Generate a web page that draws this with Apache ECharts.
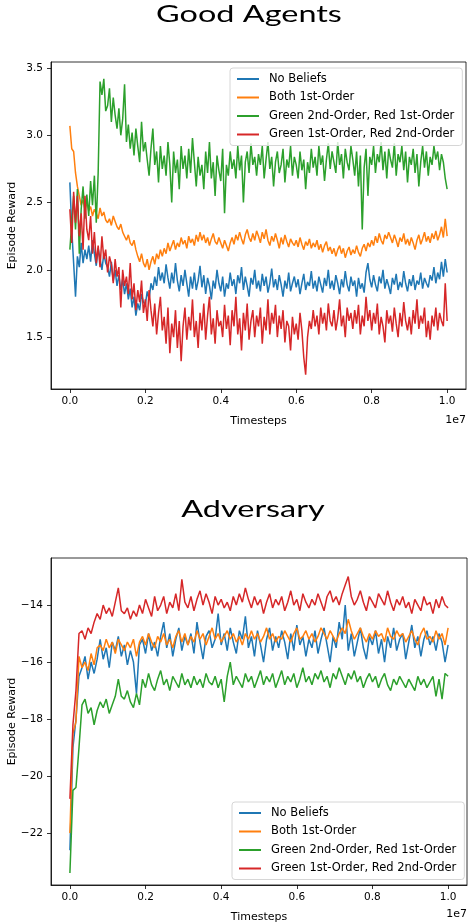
<!DOCTYPE html>
<html>
<head>
<meta charset="utf-8">
<script src="https://cdn.jsdelivr.net/npm/echarts@6/dist/echarts.min.js"></script>
<style>
html,body{margin:0;padding:0;background:#fff;}
#chart{width:470px;height:924px;}
</style>
</head>
<body>
<div id="chart"></div>
<script>
// ---------- data ----------
const seriesNames = ['No Beliefs', 'Both 1st-Order', 'Green 2nd-Order, Red 1st-Order', 'Green 1st-Order, Red 2nd-Order'];
const seriesColors = ['#1f77b4', '#ff7f0e', '#2ca02c', '#d62728'];
const xTicks = [0, 2000000, 4000000, 6000000, 8000000, 10000000];
const goodYTicks = [1.5, 2.0, 2.5, 3.0, 3.5];
const advYTicks = [-22, -20, -18, -16, -14];
const goodStep = 50000;   // timesteps between logged points (top panel)
const advStep = 80000;    // timesteps between logged points (bottom panel)

// Good Agents — episode reward
const goodNoBeliefs = [
2.65,2.30,2.05,1.80,2.10,2.02,2.20,2.05,2.15,2.08,
2.18,2.06,2.22,2.12,2.03,2.16,2.08,2.00,2.12,2.05,
2.02,1.95,2.06,1.92,2.00,1.88,1.96,1.85,1.93,1.82,
1.90,1.78,1.86,1.72,1.80,1.66,1.75,1.70,1.82,1.76,
1.74,1.84,1.78,1.90,1.85,1.95,1.88,2.02,1.92,1.98,
1.90,2.04,1.94,1.86,1.98,1.90,2.05,1.92,1.84,1.96,
1.88,2.00,1.90,1.80,1.95,1.86,1.98,1.85,1.92,2.03,
1.87,1.96,1.82,1.94,1.88,1.78,1.92,1.86,2.00,1.90,
1.84,1.95,1.80,1.90,1.86,1.98,1.88,1.93,1.82,1.96,
1.90,2.02,1.85,1.95,1.88,1.80,1.94,1.89,2.00,1.86,
1.92,1.84,1.97,1.88,1.95,1.83,1.90,2.01,1.87,1.93,
1.85,1.96,1.89,1.80,1.92,1.86,1.98,1.84,1.90,1.95,
1.87,1.93,1.82,1.90,1.97,1.85,1.91,1.88,1.99,1.86,
1.92,1.84,1.95,1.89,1.83,1.94,1.88,2.00,1.86,1.92,
1.85,1.96,1.90,1.82,1.93,1.87,1.99,1.89,1.84,1.95,
1.88,1.92,1.80,1.94,1.86,1.90,1.83,1.98,2.05,1.93,
1.87,1.96,1.89,1.84,1.95,1.90,2.00,1.86,1.93,1.88,
1.82,1.94,1.89,1.97,1.85,1.91,1.87,1.99,1.90,1.84,
1.93,1.88,1.96,1.85,1.92,1.89,1.98,1.86,1.94,1.90,
1.87,1.96,1.92,2.02,1.90,1.98,1.93,2.06,1.95,2.08,
1.98];
const goodBoth1st = [
3.07,2.90,2.88,2.72,2.62,2.55,2.48,2.52,2.45,2.50,
2.44,2.47,2.40,2.45,2.42,2.38,2.46,2.40,2.43,2.37,
2.35,2.38,2.33,2.40,2.36,2.32,2.30,2.34,2.28,2.25,
2.22,2.26,2.20,2.18,2.22,2.15,2.10,2.06,2.12,2.05,
2.02,2.08,2.00,2.06,2.10,2.04,2.12,2.08,2.15,2.10,
2.16,2.12,2.20,2.14,2.18,2.22,2.15,2.20,2.17,2.24,
2.19,2.22,2.16,2.25,2.20,2.23,2.18,2.26,2.21,2.28,
2.22,2.26,2.20,2.24,2.18,2.23,2.27,2.21,2.19,2.24,
2.20,2.16,2.22,2.18,2.14,2.20,2.24,2.19,2.26,2.22,
2.28,2.23,2.19,2.26,2.30,2.24,2.21,2.27,2.22,2.29,
2.25,2.20,2.28,2.23,2.30,2.22,2.18,2.25,2.21,2.27,
2.22,2.16,2.24,2.19,2.26,2.21,2.17,2.23,2.20,2.18,
2.22,2.17,2.24,2.19,2.15,2.21,2.18,2.23,2.16,2.20,
2.17,2.22,2.15,2.19,2.13,2.18,2.21,2.14,2.17,2.12,
2.16,2.10,2.15,2.18,2.12,2.16,2.09,2.14,2.17,2.11,
2.15,2.12,2.18,2.13,2.10,2.16,2.19,2.14,2.20,2.17,
2.22,2.18,2.25,2.20,2.27,2.22,2.19,2.26,2.23,2.28,
2.24,2.20,2.26,2.22,2.17,2.24,2.21,2.27,2.19,2.23,
2.18,2.24,2.20,2.15,2.22,2.26,2.19,2.23,2.28,2.21,
2.25,2.20,2.27,2.23,2.29,2.22,2.26,2.32,2.24,2.38,
2.25];
const goodGreen2nd = [
2.15,2.35,2.55,2.30,2.60,2.12,2.45,2.62,2.38,2.56,
2.40,2.66,2.48,2.70,2.35,2.72,3.40,3.30,3.42,3.18,
3.22,3.35,3.10,3.28,3.15,3.05,3.20,3.00,3.12,3.38,
2.95,3.08,2.90,3.02,2.85,3.05,2.92,2.80,3.10,2.88,
2.95,2.82,2.70,2.90,3.05,2.78,2.88,2.65,2.92,2.75,
2.85,2.70,2.95,2.78,2.50,2.88,2.72,2.82,2.60,2.92,
2.75,2.85,2.68,2.90,2.72,2.98,2.80,2.62,2.84,2.70,
2.78,2.60,2.88,2.72,2.95,2.68,2.80,2.55,2.85,2.74,
2.66,2.90,2.42,2.78,2.70,2.88,2.75,2.82,2.68,2.92,
2.74,2.85,2.50,2.80,2.88,2.72,2.94,2.78,2.84,2.70,
2.86,2.78,2.92,2.68,2.82,2.95,2.75,2.84,2.62,2.80,
2.88,2.72,2.78,2.90,2.65,2.82,2.76,2.92,2.70,2.84,
2.78,2.68,2.88,2.74,2.82,2.60,2.80,2.72,2.90,2.76,
2.84,2.70,2.92,2.78,2.85,2.66,2.82,2.94,2.75,2.88,
2.80,2.72,2.95,2.78,2.86,2.68,2.90,2.80,2.74,2.92,
2.82,2.70,2.88,2.62,2.85,2.30,2.76,2.90,2.55,2.84,
2.78,2.92,2.72,2.86,2.80,2.95,2.74,2.88,2.68,2.90,
2.82,2.76,2.94,2.70,2.86,2.80,2.92,2.74,2.88,2.65,
2.84,2.78,2.90,2.72,2.86,2.62,2.80,2.92,2.76,2.88,
2.70,2.84,2.78,2.92,2.82,2.88,2.74,2.86,2.80,2.68,
2.60];
const goodGreen1st = [
2.45,2.20,2.58,2.35,2.55,2.25,2.42,2.15,2.55,2.30,
2.22,2.40,2.12,2.28,2.05,2.18,2.02,2.25,2.08,2.15,
1.98,2.10,2.04,1.90,2.08,1.95,2.02,1.72,2.00,1.88,
1.95,1.82,2.05,1.78,1.90,1.70,1.85,1.76,1.92,1.68,
1.78,1.62,1.85,1.70,1.58,1.75,1.52,1.68,1.80,1.55,
1.65,1.45,1.72,1.38,1.60,1.50,1.70,1.42,1.62,1.32,
1.58,1.72,1.48,1.65,1.55,1.78,1.50,1.62,1.42,1.68,
1.55,1.75,1.48,1.66,1.80,1.52,1.64,1.45,1.70,1.58,
1.62,1.50,1.74,1.56,1.66,1.44,1.70,1.58,1.80,1.52,
1.64,1.40,1.68,1.55,1.75,1.48,1.62,1.70,1.50,1.66,
1.58,1.72,1.45,1.65,1.55,1.78,1.52,1.68,1.60,1.74,
1.50,1.66,1.56,1.70,1.46,1.62,1.58,1.40,1.65,1.52,
1.60,1.48,1.68,1.55,1.35,1.22,1.50,1.62,1.56,1.70,
1.58,1.66,1.52,1.72,1.60,1.68,1.55,1.75,1.62,1.58,
1.70,1.55,1.64,1.78,1.58,1.66,1.50,1.72,1.62,1.68,
1.56,1.70,1.60,1.74,1.52,1.66,1.58,1.80,1.62,1.70,
1.55,1.68,1.60,1.75,1.52,1.65,1.58,1.46,1.70,1.60,
1.66,1.54,1.72,1.60,1.50,1.68,1.58,1.76,1.62,1.55,
1.65,1.52,1.70,1.60,1.78,1.56,1.66,1.60,1.72,1.50,
1.62,1.48,1.66,1.58,1.72,1.55,1.68,1.62,1.58,1.90,
1.62];

// Adversary — episode reward
const advNoBeliefs = [
-22.6,-19.0,-18.0,-16.5,-16.2,-15.8,-16.6,-16.0,-16.4,-15.9,
-15.2,-15.9,-15.5,-16.2,-15.3,-15.6,-15.1,-15.8,-15.4,-16.1,
-15.6,-16.0,-17.1,-15.4,-15.2,-15.7,-15.0,-15.6,-15.3,-15.8,
-15.1,-14.6,-15.5,-15.0,-15.8,-15.2,-14.8,-15.6,-15.1,-15.4,
-15.0,-15.7,-14.6,-15.3,-15.9,-15.1,-14.9,-15.5,-15.2,-14.3,
-15.4,-15.0,-15.6,-14.8,-15.3,-15.7,-14.9,-15.2,-14.4,-15.5,
-15.1,-15.8,-14.9,-15.4,-16.0,-15.2,-14.8,-15.6,-15.1,-15.5,
-14.9,-15.3,-15.9,-15.0,-15.6,-14.7,-15.4,-15.1,-15.8,-15.2,
-15.5,-14.9,-15.7,-15.2,-14.8,-15.4,-16.0,-15.1,-15.5,-14.6,
-15.2,-14.0,-15.6,-15.0,-15.8,-15.3,-14.8,-15.5,-15.9,-15.1,
-15.4,-14.9,-15.7,-15.2,-16.0,-15.1,-15.5,-14.8,-15.6,-15.2,
-15.0,-15.9,-15.3,-14.7,-15.5,-15.1,-15.8,-15.2,-14.9,-15.4,
-15.1,-15.6,-15.0,-15.3,-16.0,-15.4];
const advBoth1st = [
-22.0,-18.5,-18.1,-15.8,-16.2,-16.0,-16.3,-15.7,-16.1,-15.5,
-15.4,-15.6,-15.2,-15.5,-15.3,-15.7,-15.2,-15.4,-15.6,-15.3,
-15.5,-15.2,-15.8,-15.3,-15.1,-15.4,-15.0,-15.3,-15.5,-15.1,
-15.3,-15.0,-15.4,-15.2,-15.5,-15.1,-14.9,-15.3,-15.0,-15.4,
-15.1,-15.3,-14.9,-15.2,-15.0,-15.4,-15.1,-14.8,-15.2,-15.0,
-15.3,-15.1,-14.9,-15.2,-15.0,-15.3,-15.1,-15.4,-15.0,-15.2,
-14.9,-15.2,-15.0,-15.3,-15.1,-14.8,-15.2,-15.0,-15.3,-15.1,
-15.2,-14.9,-15.1,-15.3,-15.0,-14.8,-15.2,-15.1,-14.9,-15.2,
-15.0,-15.3,-15.1,-14.8,-15.0,-15.2,-14.9,-15.1,-15.3,-15.0,
-14.8,-15.0,-14.5,-14.9,-15.2,-15.0,-14.8,-15.1,-15.3,-15.0,
-15.2,-14.9,-15.1,-15.0,-15.3,-14.8,-15.1,-15.2,-14.9,-15.1,
-15.0,-15.3,-15.1,-14.9,-15.2,-15.4,-15.0,-14.8,-15.2,-15.1,
-15.3,-14.9,-15.2,-15.0,-15.4,-14.8];
const advGreen2nd = [
-23.4,-20.5,-20.4,-19.0,-17.5,-17.3,-17.8,-17.6,-18.2,-17.7,
-17.4,-17.6,-17.3,-17.8,-17.5,-17.2,-16.6,-17.2,-17.3,-17.0,
-17.4,-17.6,-17.1,-17.5,-16.6,-16.9,-16.4,-16.8,-17.0,-16.6,
-16.3,-16.8,-16.6,-17.0,-16.5,-16.7,-16.9,-16.4,-16.8,-16.6,
-16.9,-16.5,-16.8,-16.6,-16.9,-16.4,-16.7,-16.8,-16.5,-16.9,
-16.6,-17.4,-16.5,-16.0,-16.8,-16.5,-16.7,-16.9,-16.4,-16.7,
-16.5,-16.9,-16.6,-16.3,-16.8,-16.5,-16.7,-16.4,-16.9,-16.6,
-16.3,-16.8,-16.5,-16.7,-16.4,-16.9,-16.6,-16.2,-16.7,-16.5,
-16.8,-16.4,-16.6,-16.3,-16.7,-16.5,-16.9,-16.4,-16.6,-16.2,
-16.5,-16.8,-16.4,-16.6,-16.3,-16.7,-16.5,-16.9,-16.6,-16.4,
-16.7,-16.5,-16.9,-16.6,-16.4,-16.8,-17.0,-16.6,-16.8,-16.5,
-16.7,-16.9,-16.6,-16.8,-17.0,-16.5,-16.8,-16.6,-16.9,-16.7,
-16.5,-17.2,-16.6,-17.3,-16.4,-16.5];
const advGreen1st = [
-20.8,-18.2,-17.0,-15.0,-14.9,-15.2,-14.8,-15.0,-14.6,-14.3,
-14.5,-14.0,-14.3,-14.1,-14.4,-13.9,-13.4,-14.2,-14.3,-14.1,
-14.5,-14.2,-14.4,-14.0,-14.3,-13.8,-14.1,-14.4,-13.7,-14.2,
-14.0,-13.7,-14.3,-13.9,-14.1,-13.6,-14.2,-13.1,-13.9,-14.1,
-13.7,-14.2,-13.8,-13.5,-14.0,-13.6,-13.9,-14.3,-13.7,-14.0,
-13.8,-14.1,-13.9,-14.2,-13.7,-14.0,-13.6,-13.9,-13.4,-13.8,
-14.1,-13.7,-14.0,-13.8,-14.3,-13.9,-13.6,-14.1,-13.8,-14.0,
-13.7,-14.2,-13.9,-13.5,-14.0,-13.8,-14.2,-13.6,-13.9,-14.1,
-13.8,-14.0,-13.6,-13.9,-14.2,-13.7,-13.5,-13.9,-13.7,-14.0,
-13.6,-13.3,-13.0,-13.7,-14.0,-13.8,-13.5,-13.9,-14.2,-13.7,
-13.9,-14.1,-13.6,-13.8,-14.0,-13.5,-13.9,-14.2,-13.8,-14.0,
-13.7,-14.1,-13.9,-14.3,-13.8,-14.0,-14.2,-13.7,-14.0,-13.9,
-14.3,-13.8,-14.1,-13.7,-14.0,-14.1];

// ---------- chart ----------
const FONT = 'DejaVu Sans';
function pairs(vals, step) { return vals.map((v, i) => [i * step, v]); }
const fmtX = v => (v / 1e7).toFixed(1);
const fmtY1 = v => v.toFixed(1);
const fmtY2 = v => (v < 0 ? '\u2212' + Math.abs(v) : String(v));
const AXIS_LINE = { show: true, onZero: false, lineStyle: { color: '#000', width: 0.8 } };

function xAxis(gi) {
  return {
    type: 'value', gridIndex: gi, min: -500000, max: 10500000,
    name: 'Timesteps', nameLocation: 'middle', nameGap: 27, nameMoveOverlap: false,
    nameTextStyle: { fontFamily: FONT, fontSize: 11, color: '#000' },
    axisLine: AXIS_LINE, splitLine: { show: false },
    axisTick: { show: true, inside: false, length: 4, customValues: xTicks, lineStyle: { color: '#000', width: 0.8 } },
    axisLabel: { customValues: xTicks, formatter: fmtX, margin: 7, fontFamily: FONT, fontSize: 10.5, color: '#000' }
  };
}
function yAxis(gi, min, max, ticks, fmt) {
  return {
    type: 'value', gridIndex: gi, min: min, max: max,
    name: 'Episode Reward', nameLocation: 'middle', nameGap: 33, nameRotate: 90, nameMoveOverlap: false,
    nameTextStyle: { fontFamily: FONT, fontSize: 11, color: '#000' },
    axisLine: AXIS_LINE, splitLine: { show: false },
    axisTick: { show: true, inside: false, length: 4, customValues: ticks, lineStyle: { color: '#000', width: 0.8 } },
    axisLabel: { customValues: ticks, formatter: fmt, margin: 8, fontFamily: FONT, fontSize: 10.5, color: '#000' }
  };
}
function legend(left, top) {
  return {
    orient: 'vertical', left: left, top: top,
    data: seriesNames, icon: 'rect', itemWidth: 22, itemHeight: 2, itemGap: 4.5,
    padding: [4, 8, 4, 7],
    backgroundColor: 'rgba(255,255,255,0.8)', borderColor: '#d6d6d6', borderWidth: 1, borderRadius: 3,
    textStyle: { fontFamily: FONT, fontSize: 11.5, color: '#000', lineHeight: 14, padding: [0, 0, 0, 5] },
    selectedMode: false
  };
}
const goodSets = [goodNoBeliefs, goodBoth1st, goodGreen2nd, goodGreen1st];
const advSets = [advNoBeliefs, advBoth1st, advGreen2nd, advGreen1st];
const series = [];
goodSets.forEach((vals, k) => series.push({
  name: seriesNames[k], type: 'line', xAxisIndex: 0, yAxisIndex: 0,
  data: pairs(vals, goodStep), showSymbol: false, symbol: 'none',
  lineStyle: { width: 1.5, color: seriesColors[k] }, itemStyle: { color: seriesColors[k] }
}));
advSets.forEach((vals, k) => series.push({
  name: seriesNames[k], type: 'line', xAxisIndex: 1, yAxisIndex: 1,
  data: pairs(vals, advStep), showSymbol: false, symbol: 'none',
  lineStyle: { width: 1.5, color: seriesColors[k] }, itemStyle: { color: seriesColors[k] }
}));

const chart = echarts.init(document.getElementById('chart'), null, { renderer: 'canvas' });
chart.setOption({
  animation: false,
  backgroundColor: '#fff',
  grid: [
    { left: 51, top: 62, width: 415, height: 327, show: true, borderColor: '#000', borderWidth: 0.8, backgroundColor: 'transparent', containLabel: false, outerBoundsMode: 'none' },
    { left: 51, top: 558, width: 416, height: 327, show: true, borderColor: '#000', borderWidth: 0.8, backgroundColor: 'transparent', containLabel: false, outerBoundsMode: 'none' }
  ],
  xAxis: [xAxis(0), xAxis(1)],
  yAxis: [yAxis(0, 1.114, 3.545, goodYTicks, fmtY1), yAxis(1, -23.82, -12.35, advYTicks, fmtY2)],
  legend: [legend(230, 68), legend(232, 802)],
  series: series,
  graphic: [
    { type: 'text', x: 249, y: 14, scaleX: 1.35, style: { text: 'Good Agents', x: 0, y: 0, align: 'center', verticalAlign: 'middle', font: '400 24px Lato', fill: '#000' } },
    { type: 'text', x: 253, y: 509, scaleX: 1.35, style: { text: 'Adversary', x: 0, y: 0, align: 'center', verticalAlign: 'middle', font: '400 24px Lato', fill: '#000' } },
    { type: 'text', x: 466, y: 420, style: { text: '1e7', align: 'right', verticalAlign: 'middle', font: '11px "DejaVu Sans"', fill: '#000' } },
    { type: 'text', x: 467, y: 914, style: { text: '1e7', align: 'right', verticalAlign: 'middle', font: '11px "DejaVu Sans"', fill: '#000' } }
  ]
});
</script>
</body>
</html>
